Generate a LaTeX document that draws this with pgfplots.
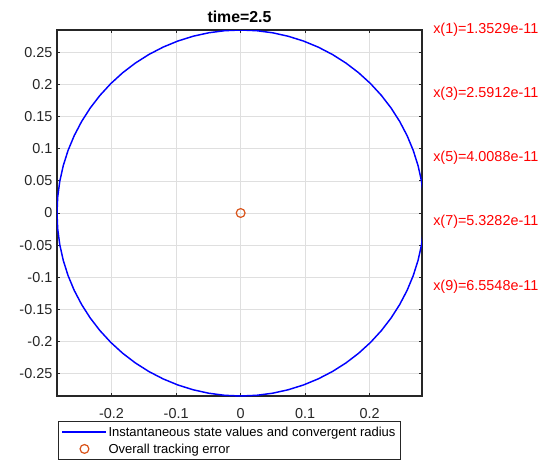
\documentclass[border=0pt]{standalone}
\usepackage{fontspec}
\setmainfont{Liberation Sans}
\usepackage{pgfplots}
\pgfplotsset{compat=1.18}
\definecolor{mlorange}{rgb}{0.85,0.325,0.098}
\definecolor{axgray}{HTML}{262626}
\definecolor{gridgray}{HTML}{DFDFDF}
\begin{document}
\begin{tikzpicture}
\begin{axis}[
  scale only axis, width=273.75pt, height=274.5pt,
  xmin=-0.2846, xmax=0.281, ymin=-0.2846, ymax=0.2846,
  xtick={-0.2,-0.1,0,0.1,0.2},
  xticklabels={-0.2,-0.1,0,0.1,0.2},
  ytick={-0.25,-0.2,-0.15,-0.1,-0.05,0,0.05,0.1,0.15,0.2,0.25},
  yticklabels={-0.25,-0.2,-0.15,-0.1,-0.05,0,0.05,0.1,0.15,0.2,0.25},
  tick align=inside, major tick length=2.5pt,
  every tick/.style={axgray, line width=0.6pt},
  axis line style={axgray, line width=0.8pt},
  grid=major, major grid style={gridgray, line width=0.5pt},
  tick label style={font=\fontsize{10.8}{13}\selectfont, text=axgray},
  xticklabel style={yshift=-5.5pt},
  title={time=2.5},
  every axis title shift=0pt,
  title style={at={(0.5,1)}, anchor=base, yshift=6pt, font=\fontsize{11.9}{14}\selectfont\bfseries},
  clip mode=individual,
  legend cell align=left,
  legend image code/.code={\draw[mark repeat=2,mark phase=2,#1] plot coordinates {(0pt,0pt) (16.5pt,0pt) (33pt,0pt)};},
  legend style={at={(0,0)}, anchor=north west, xshift=0.75pt, yshift=-18.75pt,
    draw=axgray, line width=0.6pt, fill=white,
    inner xsep=2.5pt, inner ysep=2.4pt, row sep=1.75pt,
    font=\fontsize{9.75}{11}\selectfont,
    nodes={inner sep=1pt, text height=8pt, text depth=1pt}},
]
\addplot[blue, line width=1.1pt, no markers] coordinates {
(0.28460,0) (0.28352,0.02481) (0.28028,0.04942) (0.27490,0.07366) (0.26744,0.09734) (0.25794,0.12028) (0.24647,0.14230) (0.23313,0.16324) (0.21802,0.18294) (0.20124,0.20124) (0.18294,0.21802) (0.16324,0.23313) (0.14230,0.24647) (0.12028,0.25794) (0.09734,0.26744) (0.07366,0.27490) (0.04942,0.28028) (0.02481,0.28352) (0,0.28460)
(-0.02481,0.28352) (-0.04942,0.28028) (-0.07366,0.27490) (-0.09734,0.26744) (-0.12028,0.25794) (-0.14230,0.24647) (-0.16324,0.23313) (-0.18294,0.21802) (-0.20124,0.20124) (-0.21802,0.18294) (-0.23313,0.16324) (-0.24647,0.14230) (-0.25794,0.12028) (-0.26744,0.09734) (-0.27490,0.07366) (-0.28028,0.04942) (-0.28352,0.02481) (-0.28460,0)
(-0.28352,-0.02481) (-0.28028,-0.04942) (-0.27490,-0.07366) (-0.26744,-0.09734) (-0.25794,-0.12028) (-0.24647,-0.14230) (-0.23313,-0.16324) (-0.21802,-0.18294) (-0.20124,-0.20124) (-0.18294,-0.21802) (-0.16324,-0.23313) (-0.14230,-0.24647) (-0.12028,-0.25794) (-0.09734,-0.26744) (-0.07366,-0.27490) (-0.04942,-0.28028) (-0.02481,-0.28352) (0,-0.28460)
(0.02481,-0.28352) (0.04942,-0.28028) (0.07366,-0.27490) (0.09734,-0.26744) (0.12028,-0.25794) (0.14230,-0.24647) (0.16324,-0.23313) (0.18294,-0.21802) (0.20124,-0.20124) (0.21802,-0.18294) (0.23313,-0.16324) (0.24647,-0.14230) (0.25794,-0.12028) (0.26744,-0.09734) (0.27490,-0.07366) (0.28028,-0.04942) (0.28352,-0.02481) (0.28460,0)
};
\addlegendentry{Instantaneous state values and convergent radius}
\addplot[only marks, mark=o, mark size=3.3pt, mlorange, line width=0.9pt] coordinates {(0,0)};
\addlegendentry{Overall tracking error}
\coordinate (bl) at (rel axis cs:0,0);
\end{axis}
\begin{scope}[every node/.style={anchor=west, inner sep=0pt, text=red, font=\fontsize{10.8}{13}\selectfont}]
\node at ([shift={(282pt,274.5pt)}]bl) {x(1)=1.3529e-11};
\node at ([shift={(282pt,226.5pt)}]bl) {x(3)=2.5912e-11};
\node at ([shift={(282pt,178.5pt)}]bl) {x(5)=4.0088e-11};
\node at ([shift={(282pt,130.5pt)}]bl) {x(7)=5.3282e-11};
\node at ([shift={(282pt,81.75pt)}]bl) {x(9)=6.5548e-11};
\end{scope}
\pgfresetboundingbox
\path[use as bounding box] ([shift={(-42.75pt,-54.75pt)}]bl) rectangle ([shift={(369.75pt,297pt)}]bl);
\end{tikzpicture}
\end{document}
